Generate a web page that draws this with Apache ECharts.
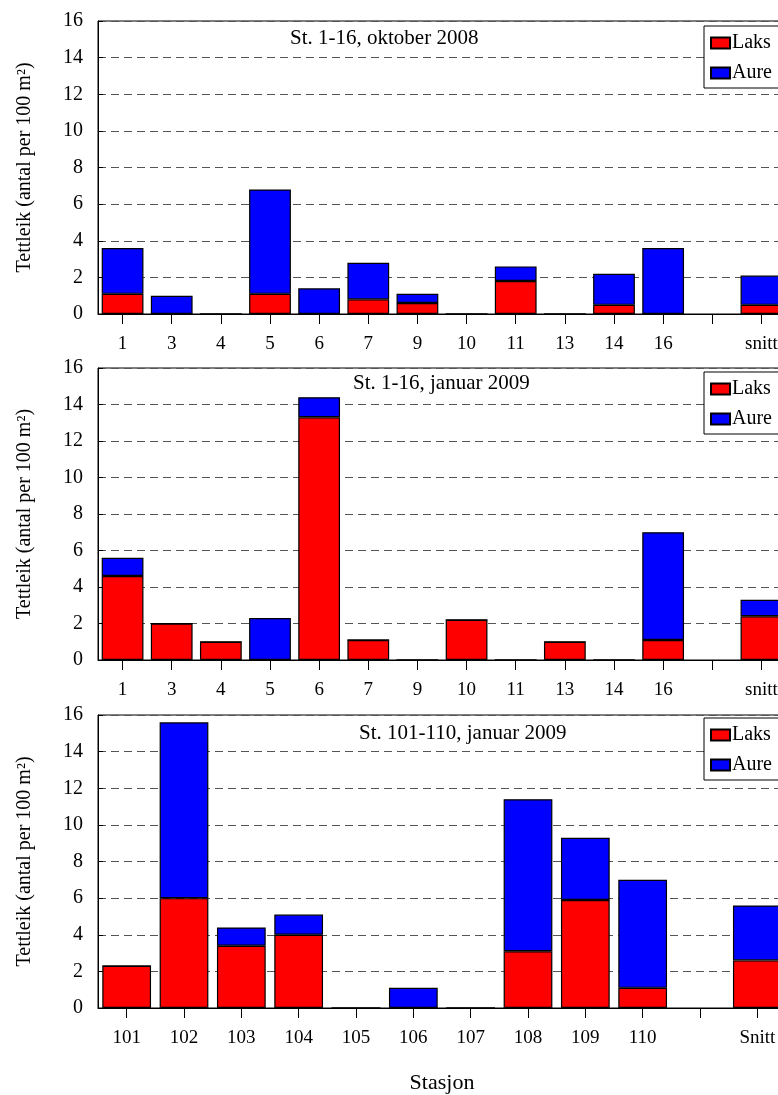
<!DOCTYPE html>
<html>
<head>
<meta charset="utf-8">
<script src="https://cdn.jsdelivr.net/npm/echarts@6/dist/echarts.min.js"></script>
<style>
html,body{margin:0;padding:0;background:#fff;overflow:hidden;width:778px;height:1095px;}
#c{width:820px;height:1095px;}
</style>
</head>
<body>
<div id="c"></div>
<script>
// Panel 1: St. 1-16, oktober 2008
const cats1 = ['1','3','4','5','6','7','9','10','11','13','14','16','','snitt'];
const laks1 = [1.1, 0, 0, 1.1, 0, 0.8, 0.6, 0, 1.8, 0, 0.5, 0, null, 0.5];
const aure1 = [2.5, 1.0, 0, 5.7, 1.4, 2.0, 0.5, 0, 0.8, 0, 1.7, 3.6, null, 1.6];
// Panel 2: St. 1-16, januar 2009
const cats2 = ['1','3','4','5','6','7','9','10','11','13','14','16','','snitt'];
const laks2 = [4.6, 2.0, 1.0, 0, 13.3, 1.1, 0, 2.2, 0, 1.0, 0, 1.1, null, 2.4];
const aure2 = [1.0, 0, 0, 2.3, 1.1, 0, 0, 0, 0, 0, 0, 5.9, null, 0.9];
// Panel 3: St. 101-110, januar 2009
const cats3 = ['101','102','103','104','105','106','107','108','109','110','','Snitt'];
const laks3 = [2.3, 6.0, 3.4, 4.0, 0, 0, 0, 3.1, 5.9, 1.1, null, 2.6];
const aure3 = [0, 9.6, 1.0, 1.1, 0, 1.1, 0, 8.3, 3.4, 5.9, null, 3.0];

const titles = ['St. 1-16, oktober 2008', 'St. 1-16, januar 2009', 'St. 101-110, januar 2009'];
const yTicks = {min: 0, max: 16, interval: 2};
const yName = 'Tettleik (antal per 100 m\u00B2)';
const xName = 'Stasjon';
const seriesNames = ['Laks', 'Aure'];

const FONT = '"Liberation Serif", "DejaVu Serif", serif';
const grids = [
  {left: 98, top: 21, width: 688, height: 293},
  {left: 98, top: 368, width: 688, height: 292},
  {left: 98, top: 715, width: 688, height: 295}
];
const titlePos = [{left: 290, top: 28}, {left: 353, top: 373}, {left: 359, top: 723}];
const legendTop = [26, 372, 718];
const catsAll = [cats1, cats2, cats3];
const laksAll = [laks1, laks2, laks3];
const aureAll = [aure1, aure2, aure3];

const option = {
  backgroundColor: '#fff',
  animation: false,
  textStyle: {fontFamily: FONT, color: '#000'},
  title: titles.map((t, i) => ({
    text: t, left: titlePos[i].left, top: titlePos[i].top, padding: 0,
    textStyle: {fontFamily: FONT, fontSize: 21, fontWeight: 'normal', color: '#000'}
  })),
  legend: legendTop.map((t, i) => ({
    data: seriesNames, orient: 'vertical', left: 704, top: t,
    backgroundColor: '#fff', borderColor: '#000', borderWidth: 1,
    padding: [7, 30, 5, 6], itemGap: 10, itemWidth: 19, itemHeight: 11,
    icon: 'rect', selectedMode: false,
    textStyle: {fontFamily: FONT, fontSize: 20, color: '#000', padding: [0, 0, 0, -3]}
  })),
  grid: grids.map(g => Object.assign({show: true, borderColor: '#000', borderWidth: 1, backgroundColor: 'transparent'}, g)),
  xAxis: catsAll.map((c, i) => ({
    type: 'category', gridIndex: i, data: c,
    axisLine: {lineStyle: {color: '#000', width: 1}},
    axisTick: {show: true, alignWithLabel: true, length: 10, lineStyle: {color: '#000'}},
    axisLabel: {fontFamily: FONT, fontSize: 19, color: '#000', margin: 21},
    name: i === 2 ? xName : '', nameLocation: 'middle', nameGap: 64,
    nameTextStyle: {fontFamily: FONT, fontSize: 22, color: '#000'}
  })),
  yAxis: catsAll.map((c, i) => ({
    type: 'value', gridIndex: i, min: yTicks.min, max: yTicks.max, interval: yTicks.interval,
    axisLine: {show: true, lineStyle: {color: '#000', width: 1}},
    axisTick: {show: true, inside: true, length: 5, lineStyle: {color: '#000'}},
    axisLabel: {fontFamily: FONT, fontSize: 20, color: '#000', margin: 15},
    splitLine: {show: true, lineStyle: {color: '#555', type: [8, 5], width: 1}},
    name: yName, nameLocation: 'middle', nameGap: 63, nameRotate: 90,
    nameTextStyle: {fontFamily: FONT, fontSize: 20, color: '#000'}
  })),
  series: []
};

for (let i = 0; i < 3; i++) {
  option.series.push({
    name: 'Laks', type: 'bar', stack: 's' + i, xAxisIndex: i, yAxisIndex: i,
    data: laksAll[i], barWidth: '85%',
    itemStyle: {color: '#ff0000', borderColor: '#000', borderWidth: 1.2}
  });
  option.series.push({
    name: 'Aure', type: 'bar', stack: 's' + i, xAxisIndex: i, yAxisIndex: i,
    data: aureAll[i], barWidth: '85%',
    itemStyle: {color: '#0000ff', borderColor: '#000', borderWidth: 1.2}
  });
}

const chart = echarts.init(document.getElementById('c'), null, {renderer: 'canvas'});
chart.setOption(option);
</script>
</body>
</html>
